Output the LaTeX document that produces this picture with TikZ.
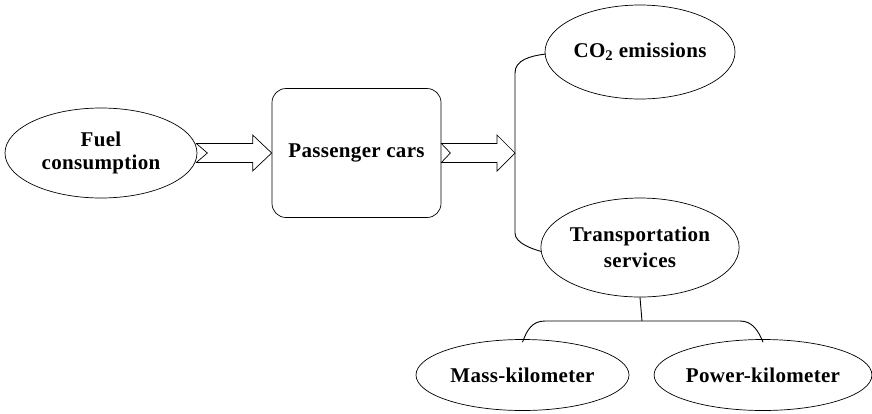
\documentclass[tikz,border=0pt]{standalone}
\usepackage{fontspec}
\setmainfont{Liberation Serif}[LetterSpace=1.5]
\usetikzlibrary{shapes.geometric,calc}
\tikzset{
  label font/.style={font=\bfseries\fontsize{21}{23}\selectfont},
  oval/.style={draw, ellipse, inner sep=0pt, line width=0.7pt, align=center, label font},
  roundbox/.style={draw, rounded corners=14pt, inner sep=0pt, line width=0.7pt,
    align=center, label font},
  link/.style={draw, line width=0.9pt},
  fatarrow/.style={draw, line width=0.7pt, line join=miter}
}
\begin{document}
\begin{tikzpicture}[x=1pt,y=-1pt]
  \useasboundingbox (0,0) rectangle (872,413);

  % main nodes
  \node[oval, minimum width=192pt, minimum height=90pt] (fuel) at (101,153) {Fuel\\consumption};
  \node[roundbox, minimum width=169pt, minimum height=129pt] (cars) at (356.5,153) {Passenger cars};
  \node[oval, minimum width=190pt, minimum height=94pt] (co2) at (640,52) {CO\textsubscript{2} emissions};
  \node[oval, minimum width=190pt, minimum height=99pt] (trans) at (640,247.5) {Transportation\\[3pt]services};
  \node[oval, minimum width=213pt, minimum height=71pt] (mass) at (522.5,375) {Mass-kilometer};
  \node[oval, minimum width=202pt, minimum height=71pt] (power) at (763,375) {Power-kilometer};

  % branching points
  \coordinate (split) at (515,153);
  \coordinate (splittop) at (515,73);
  \coordinate (splitbot) at (515,233);
  \coordinate (fork) at (642,321);
  \coordinate (forkl) at (545,321);
  \coordinate (forkr) at (740,321);

  % hollow arrow from fuel consumption to the car box
  \draw[fatarrow]
    ($(fuel.east)+(-1,-9.5)$) -- ($(fuel.east)+(10,0)$) -- ($(fuel.east)+(-1,9.5)$)
    -- ($(cars.west)+(-19,9.5)$) -- ($(cars.west)+(-19,18)$) -- (cars.west)
    -- ($(cars.west)+(-19,-18)$) -- ($(cars.west)+(-19,-9.5)$) -- cycle;

  % hollow arrow from the car box to the split
  \draw[fatarrow]
    ($(cars.east)+(0,-9.5)$) -- ($(cars.east)+(9,0)$) -- ($(cars.east)+(0,9.5)$)
    -- ($(split)+(-18,9.5)$) -- ($(split)+(-18,18)$) -- (split)
    -- ($(split)+(-18,-18)$) -- ($(split)+(-18,-9.5)$) -- cycle;

  % split bracket to the two outputs
  \draw[link] ($(co2.west)+(1,2)$) .. controls (530,56) and (515,60) .. (splittop)
    -- (splitbot) .. controls (515,243) and (532,249) .. ($(trans.west)+(1,4)$);

  % fork below transportation services
  \draw[link] (trans.south) -- (fork);
  \draw[link] ($(mass.north)+(0,3)$) .. controls (527,330) and (532,321) .. (forkl)
    -- (forkr) .. controls (752,321) and (758,330) .. ($(power.north)+(0,3)$);
\end{tikzpicture}
\end{document}
